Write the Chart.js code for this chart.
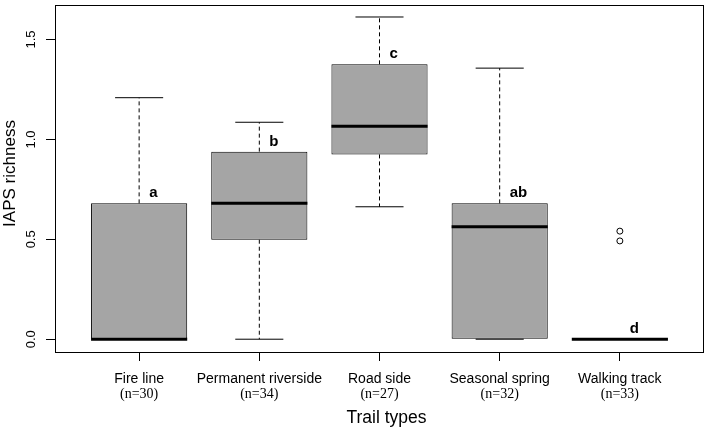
<!DOCTYPE html>
<html>
<head>
<meta charset="utf-8">
<script src="https://cdn.jsdelivr.net/npm/chart.js@4.4.1/dist/chart.umd.min.js"></script>
<style>
html, body { margin: 0; padding: 0; background: #fff; }
canvas { display: block; }
</style>
</head>
<body>
<canvas id="box" width="709" height="430"></canvas>
<script>
"use strict";
// trail types and sample sizes
var trails = ['Fire line', 'Permanent riverside', 'Road side', 'Seasonal spring', 'Walking track'];
var counts = [30, 34, 27, 32, 33];
// five-number summaries
var whiskLo = [0, 0, 0.663, 0, 0];
var q1 = [0, 0.498, 0.925, 0, 0];
var median = [0, 0.680, 1.066, 0.563, 0];
var q3 = [0.680, 0.939, 1.376, 0.680, 0];
var whiskHi = [1.209, 1.086, 1.613, 1.357, 0];
var outliers = [[], [], [], [], [0.541, 0.492]];
var letters = ['a', 'b', 'c', 'ab', 'd'];
var yTicks = [0, 0.5, 1.0, 1.5];

var SANS = '"Liberation Sans", Arial, sans-serif';
var SERIF = '"Liberation Serif", "Times New Roman", serif';

function segs(fn) {
    // one short line per box, broken by a gap point
    var out = [];
    trails.forEach(function (t, i) {
        fn(i + 1, i).forEach(function (p) { out.push(p); });
        out.push({ x: i + 1, y: null });
    });
    return out;
}

var boxData = trails.map(function (t, i) { return { x: i + 1, y: [q1[i], q3[i]] }; });
var whiskerData = segs(function (x, i) {
    var s = [];
    if (whiskHi[i] > q3[i]) s.push({ x: x, y: q3[i] }, { x: x, y: whiskHi[i] }, { x: x, y: null });
    if (whiskLo[i] < q1[i]) s.push({ x: x, y: q1[i] }, { x: x, y: whiskLo[i] });
    return s;
});
var capData = segs(function (x, i) {
    return [{ x: x - 0.2, y: whiskHi[i] }, { x: x + 0.2, y: whiskHi[i] }, { x: x, y: null },
            { x: x - 0.2, y: whiskLo[i] }, { x: x + 0.2, y: whiskLo[i] }];
});
var medianData = segs(function (x, i) {
    return [{ x: x - 0.4, y: median[i] }, { x: x + 0.4, y: median[i] }];
});
var outlierData = [];
outliers.forEach(function (vals, i) {
    vals.forEach(function (v) { outlierData.push({ x: i + 1, y: v }); });
});

var decor = {
    id: 'decor',
    afterDraw: function (chart) {
        var ctx = chart.ctx, a = chart.chartArea, xs = chart.scales.x, ys = chart.scales.y;
        ctx.save();
        ctx.strokeStyle = '#000';
        ctx.lineWidth = 1;
        ctx.strokeRect(a.left + 0.5, a.top + 0.5, a.right - a.left - 1, a.bottom - a.top);

        ctx.fillStyle = '#000';
        // x category labels, two lines
        ctx.textAlign = 'center';
        ctx.textBaseline = 'alphabetic';
        trails.forEach(function (t, i) {
            var px = xs.getPixelForValue(i + 1);
            ctx.font = '14px ' + SANS;
            ctx.fillText(t, px, a.bottom + 31);
            ctx.font = '14px ' + SERIF;
            ctx.fillText('(n=' + counts[i] + ')', px, a.bottom + 46);
        });
        // y tick labels, rotated like R
        ctx.font = '13px ' + SANS;
        yTicks.forEach(function (v) {
            ctx.save();
            ctx.translate(a.left - 20, ys.getPixelForValue(v));
            ctx.rotate(-Math.PI / 2);
            ctx.fillText(v.toFixed(1), 0, 0);
            ctx.restore();
        });
        // axis titles
        ctx.font = '17.5px ' + SANS;
        ctx.fillText('Trail types', (a.left + a.right) / 2 + 7, 423);
        ctx.save();
        ctx.translate(15, (a.top + a.bottom) / 2 - 5);
        ctx.rotate(-Math.PI / 2);
        ctx.font = '17px ' + SANS;
        ctx.fillText('IAPS richness', 0, 0);
        ctx.restore();
        // significance letters
        ctx.font = 'bold 15px ' + SANS;
        ctx.textAlign = 'left';
        letters.forEach(function (l, i) {
            ctx.fillText(l, xs.getPixelForValue(i + 1) + 10, ys.getPixelForValue(q3[i]) - 6);
        });
        ctx.restore();
    }
};

new Chart(document.getElementById('box'), {
    type: 'bar',
    data: {
        datasets: [
            { type: 'bar', data: boxData, backgroundColor: '#a5a5a5', borderColor: '#000', borderWidth: 1,
              borderSkipped: false, categoryPercentage: 1, barPercentage: 0.8, grouped: false, order: 4 },
            { type: 'scatter', data: whiskerData, showLine: true, spanGaps: false, borderColor: '#000',
              borderWidth: 1, borderDash: [4, 3], pointRadius: 0, order: 3 },
            { type: 'scatter', data: capData, showLine: true, spanGaps: false, borderColor: '#000',
              borderWidth: 1, pointRadius: 0, order: 2 },
            { type: 'scatter', data: medianData, showLine: true, spanGaps: false, borderColor: '#000',
              borderWidth: 3, pointRadius: 0, order: 1 },
            { type: 'scatter', data: outlierData, pointRadius: 3, pointBorderWidth: 1,
              pointBackgroundColor: 'rgba(255,255,255,0)', pointBorderColor: '#000', order: 0 }
        ]
    },
    options: {
        responsive: false,
        animation: false,
        events: [],
        layout: { padding: { top: 3, right: 1, left: 0, bottom: 0 } },
        plugins: { legend: { display: false }, tooltip: { enabled: false } },
        scales: {
            x: {
                type: 'linear', min: 0.3, max: 5.7, offset: false,
                afterBuildTicks: function (s) { s.ticks = trails.map(function (t, i) { return { value: i + 1 }; }); },
                afterFit: function (s) { s.height = 78; },
                ticks: { display: false },
                grid: { offset: false, drawOnChartArea: false, drawTicks: true, tickLength: 9, color: '#000' },
                border: { display: false }
            },
            y: {
                type: 'linear', min: -0.064, max: 1.673,
                afterBuildTicks: function (s) { s.ticks = yTicks.map(function (v) { return { value: v }; }); },
                afterFit: function (s) { s.width = 55; },
                ticks: { display: false },
                grid: { drawOnChartArea: false, drawTicks: true, tickLength: 9, color: '#000' },
                border: { display: false }
            }
        }
    },
    plugins: [decor]
});
</script>
</body>
</html>
